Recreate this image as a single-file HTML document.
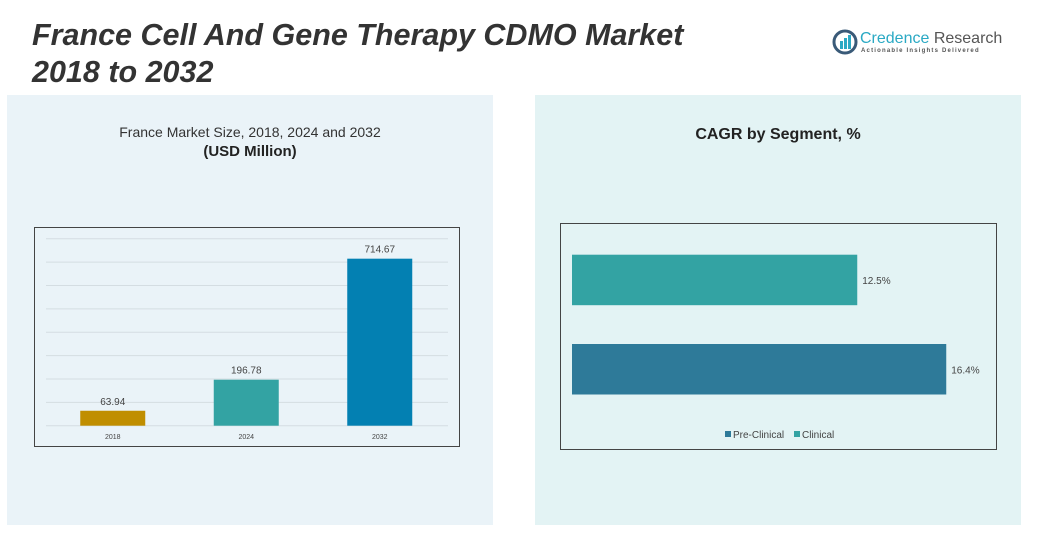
<!DOCTYPE html>
<html><head><meta charset="utf-8">
<style>
body{margin:0;width:1038px;height:533px;overflow:hidden;background:#fff;font-family:"Liberation Sans",sans-serif;position:relative}
.abs{position:absolute}
</style></head><body>
<div class="abs" style="left:32px;top:17px;font-size:30.5px;font-weight:bold;font-style:italic;color:#333;line-height:37px">France Cell And Gene Therapy CDMO Market<br>2018 to 2032</div>
<div class="abs" style="left:832px;top:29px;width:165px;height:30px">
<svg width="26" height="26" style="position:absolute;left:0;top:0"><circle cx="13" cy="13" r="11" fill="none" stroke="#3a5a78" stroke-width="3"/><rect x="8" y="12" width="3" height="8" fill="#2aa9c4"/><rect x="12" y="9" width="3" height="11" fill="#2aa9c4"/><rect x="16" y="6" width="3" height="14" fill="#2aa9c4"/></svg>
<div class="abs" style="left:28px;top:1px;font-size:16px;color:#2aa9c4;white-space:nowrap">Credence <span style="color:#555">Research</span></div>
<div class="abs" style="left:29px;top:19px;font-size:6px;letter-spacing:1.2px;color:#555;white-space:nowrap;font-weight:bold">Actionable Insights Delivered</div>
</div>
<div class="abs" style="left:7px;top:95px;width:486px;height:430px;background:#eaf3f8"></div>
<div class="abs" style="left:535px;top:95px;width:486px;height:430px;background:#e3f3f4"></div>
<div class="abs" style="left:7px;top:124px;width:486px;text-align:center;font-size:14px;color:#333">France Market Size, 2018, 2024 and 2032</div>
<div class="abs" style="left:7px;top:143px;width:486px;text-align:center;font-size:15px;font-weight:bold;color:#222">(USD Million)</div>
<div class="abs" style="left:535px;top:126px;width:486px;text-align:center;font-size:16px;font-weight:bold;color:#222">CAGR by Segment, %</div>
<svg class="abs" style="left:0;top:0" width="1038" height="533" id="svg">
<rect x="34.5" y="227.5" width="425" height="219" fill="none" stroke="#444"/>
<rect x="560.5" y="223.5" width="436" height="226" fill="none" stroke="#444"/>
<g id="left"></g><g id="right"></g>
<g font-size="10" fill="#444">
<rect x="725" y="431" width="6" height="6" fill="#2e7a99"/><text x="733" y="438">Pre-Clinical</text>
<rect x="794" y="431" width="6" height="6" fill="#33a3a3"/><text x="802" y="438">Clinical</text>
</g>
</svg>
<script>
const years=["2018","2024","2032"];
const sizes=[63.94,196.78,714.67];
const barColors=["#c08e00","#33a3a3","#0380b2"];
const segments=["Clinical","Pre-Clinical"];
const cagr=[12.5,16.4];
const segColors=["#33a3a3","#2e7a99"];
const NS="http://www.w3.org/2000/svg";
function mk(t,a,p){const e=document.createElementNS(NS,t);for(const k in a)e.setAttribute(k,a[k]);p.appendChild(e);return e;}
const L=document.getElementById('left'),R=document.getElementById('right');
const base=425.7,yS=v=>base-v*0.2337,x0=46,cw=133.5;
for(let g=0;g<=800;g+=100){const l=mk('line',{x1:46,x2:448,y1:yS(g),y2:yS(g),stroke:'#d4dde2'},L);

}
years.forEach((y,i)=>{const cx=x0+cw*(i+0.5);
const r=mk('rect',{x:cx-32.5,y:yS(sizes[i]),width:65,height:base-yS(sizes[i]),fill:barColors[i]},L);


const t=mk('text',{x:cx,y:yS(sizes[i])-6,'text-anchor':'middle','font-size':10,fill:'#444'},L);t.textContent=sizes[i].toFixed(2);


const xl=mk('text',{x:cx,y:439,'text-anchor':'middle','font-size':7,fill:'#444'},L);xl.textContent=y;

});
const xS=v=>572+v*22.82,rowY=[254.7,344],bh=50.5;
segments.forEach((s,i)=>{const r=mk('rect',{x:572,y:rowY[i],width:xS(cagr[i])-572,height:bh,fill:segColors[i]},R);


const t=mk('text',{x:xS(cagr[i])+5,y:rowY[i]+bh/2+4,'font-size':10,fill:'#444'},R);t.textContent=cagr[i]+'%';

});
</script>
</body></html>
